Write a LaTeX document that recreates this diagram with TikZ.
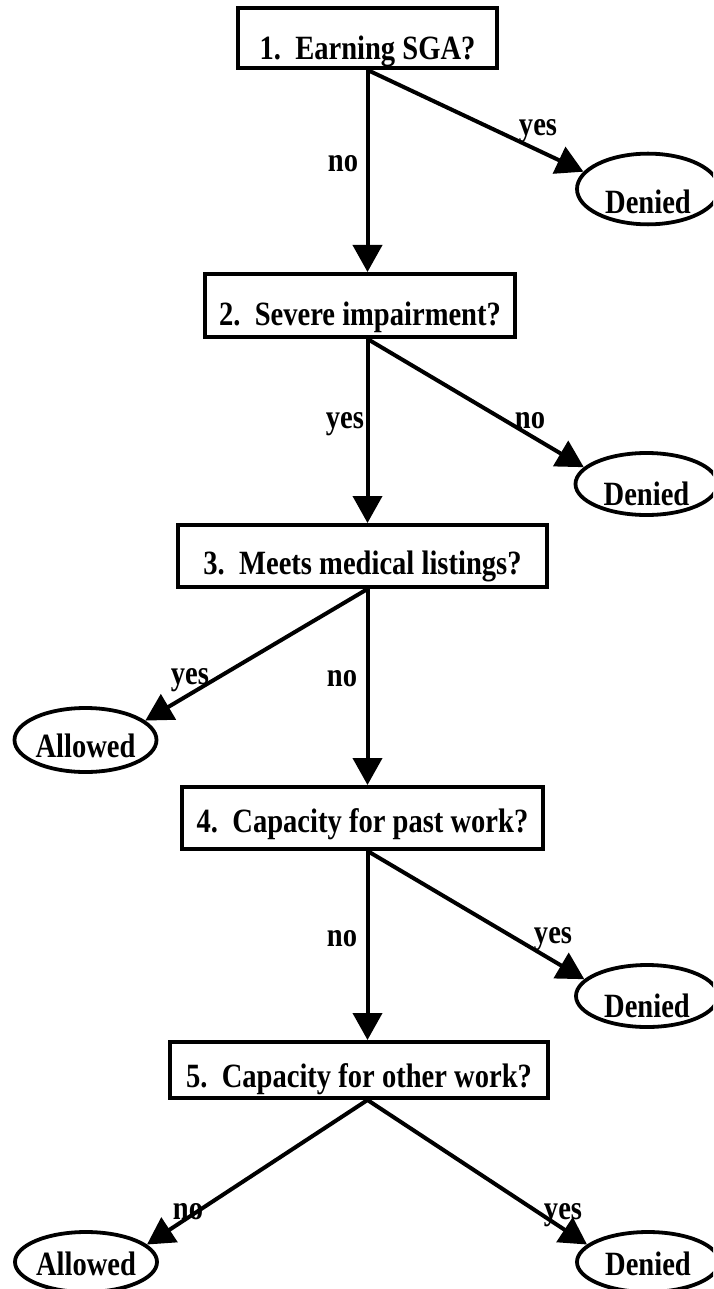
\documentclass[tikz,border=0pt]{standalone}
\usepackage{fontspec}
\newfontfamily\diafont{Liberation Serif}[FakeStretch=0.84]
\usetikzlibrary{shapes.geometric,arrows.meta}
\begin{document}
\begin{tikzpicture}[x=1pt,y=-1pt,
  every node/.style={font=\diafont\fontsize{34}{40}\selectfont\bfseries},
  qbox/.style={draw,rectangle,line width=4pt,inner sep=0pt,anchor=base},
  outc/.style={draw,ellipse,line width=3.8pt,inner sep=0pt,minimum width=142pt,minimum height=62pt,text depth=0pt},
  lbl/.style={anchor=base,inner sep=0pt},
  arr/.style={line width=4pt,-{Triangle[length=27pt,width=29pt]}}]
\clip (0,0) rectangle (713,1289);
% question boxes
\node[qbox,minimum width=259pt,text height=52pt,text depth=8pt] (b1) at (367.5,60) {1.~~Earning SGA?};
\node[qbox,minimum width=310pt,text height=51pt,text depth=12pt] (b2) at (360,325) {2.~~Severe impairment?};
\node[qbox,minimum width=369pt,text height=49pt,text depth=13pt] (b3) at (362.5,574) {3.~~Meets medical listings?};
\node[qbox,minimum width=361pt,text height=45pt,text depth=17pt] (b4) at (362.5,832) {4.~~Capacity for past work?};
\node[qbox,minimum width=378pt,text height=45pt,text depth=11pt] (b5) at (359,1087) {5.~~Capacity for other work?};
% outcomes
\node[outc,text height=50pt,minimum height=68pt] (d1) at (648,189) {Denied};
\node[outc,text height=42pt] (d2) at (646.5,484) {Denied};
\node[outc,text height=34pt,minimum height=64pt] (a1) at (85.5,740) {Allowed};
\node[outc,text height=42pt] (d3) at (647,996) {Denied};
\node[outc,text height=26pt,minimum height=60pt] (a2) at (86,1262) {Allowed};
\node[outc,text height=26pt,minimum height=60pt] (d4) at (648,1262) {Denied};
% connectors
\draw[arr] (b1.south) -- (b2.north -| b1.south);
\draw[arr] (b2.south -| b1.south) -- (b3.north -| b1.south);
\draw[arr] (b3.south -| b1.south) -- (b4.north -| b1.south);
\draw[arr] (b4.south -| b1.south) -- (b5.north -| b1.south);
\draw[arr] (b1.south) -- (d1.165);
\draw[arr] (b2.south -| b1.south) -- (d2.165);
\draw[arr] (b3.south -| b1.south) -- (a1.18);
\draw[arr] (b4.south -| b1.south) -- (d3.165);
\draw[arr] (b5.south -| b1.south) -- (a2.16);
\draw[arr] (b5.south -| b1.south) -- (d4.164);
% labels
\node[lbl] (l1) at (343,172) {no};
\node[lbl] (l2) at (538,136) {yes};
\node[lbl] (l3) at (345,428) {yes};
\node[lbl] (l4) at (530,428) {no};
\node[lbl] (l5) at (190,684) {yes};
\node[lbl] (l6) at (342,686) {no};
\node[lbl] (l7) at (342,946) {no};
\node[lbl] (l8) at (553,943) {yes};
\node[lbl] (l9) at (188,1219) {no};
\node[lbl] (l10) at (563,1219) {yes};
\end{tikzpicture}
\end{document}
